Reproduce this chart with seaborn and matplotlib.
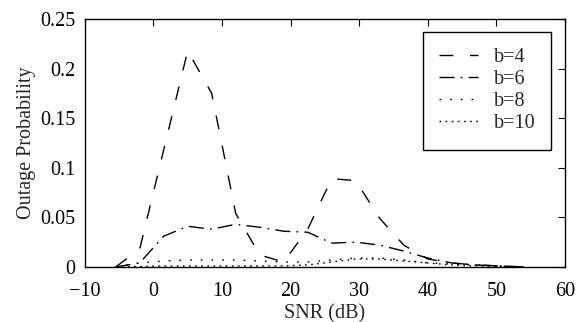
import matplotlib
matplotlib.use("Agg")
import matplotlib.pyplot as plt
import seaborn as sns
import pandas as pd

snr = [-5.5, -2, 1.5, 5, 8.5, 12, 15.5, 19, 22.5, 26, 29.5, 33, 36.5, 40, 43.5, 47, 50.5, 54]
b4 = [0.0, 0.018, 0.118, 0.218, 0.175, 0.054, 0.012, 0.005, 0.038, 0.089, 0.087, 0.049, 0.022, 0.008, 0.004, 0.002, 0.001, 0.0]
b6 = [0.0, 0.004, 0.031, 0.041, 0.038, 0.043, 0.040, 0.036, 0.035, 0.024, 0.025, 0.022, 0.016, 0.009, 0.004, 0.002, 0.001, 0.0]
b8 = [0.0, 0.004, 0.006, 0.007, 0.007, 0.007, 0.006, 0.005, 0.005, 0.007, 0.009, 0.009, 0.007, 0.004, 0.003, 0.002, 0.001, 0.0]
b10 = [0.0, 0.0005, 0.001, 0.001, 0.001, 0.001, 0.001, 0.001, 0.002, 0.005, 0.008, 0.008, 0.006, 0.004, 0.002, 0.001, 0.0005, 0.0]
labels = ["b=4", "b=6", "b=8", "b=10"]
xticks = [-10, 0, 10, 20, 30, 40, 50, 60]
yticks = [0, 0.05, 0.1, 0.15, 0.2, 0.25]
yticklabels = ["0", "0.05", "0.1", "0.15", "0.2", "0.25"]

sns.set_style("white")
plt.rcParams["font.family"] = ["Liberation Serif", "DejaVu Serif"]
plt.rcParams["axes.unicode_minus"] = True

fig = plt.figure(figsize=(5.77, 3.22), dpi=100)
ax = fig.add_axes([0.147, 0.171, 0.832, 0.770])

styles = [(0, (10, 12)), (0, (10.8, 4.5, 1.2, 4.5)), (0, (1.2, 6.5)), (0, (1.2, 3.2))]
for vals, lab, ls in zip([b4, b6, b8, b10], labels, styles):
    df = pd.DataFrame({"snr": snr, "p": vals})
    sns.lineplot(data=df, x="snr", y="p", ax=ax, color="black", linewidth=1.0,
                 linestyle=ls, label=lab)

FS = 14.5
ax.set_xlim(-10, 60)
ax.set_ylim(0, 0.25)
ax.set_xticks(xticks)
ax.set_xticklabels([str(t).replace("-", "\u2212") for t in xticks])
ax.set_yticks(yticks)
ax.set_yticklabels(yticklabels)
ax.tick_params(direction="in", length=5, width=0.8, top=True, right=True,
               labelsize=FS, colors="black")
ax.tick_params(axis="x", pad=11)
ax.tick_params(axis="y", pad=7)
for s in ax.spines.values():
    s.set_visible(True)
    s.set_color("black")
    s.set_linewidth(1.0)
ax.set_xlabel("SNR (dB)", fontsize=FS, labelpad=2)
ax.set_ylabel("Outage Probability", fontsize=FS, labelpad=3)

leg = ax.legend(loc="upper right", bbox_to_anchor=(0.972, 0.948), fontsize=FS,
                frameon=True, fancybox=False, edgecolor="black", framealpha=1,
                handlelength=1.9, handletextpad=0.8, borderpad=0.8,
                labelspacing=0.15, borderaxespad=0)
leg.get_frame().set_linewidth(1.0)

fig.savefig("out.png", dpi=100)
